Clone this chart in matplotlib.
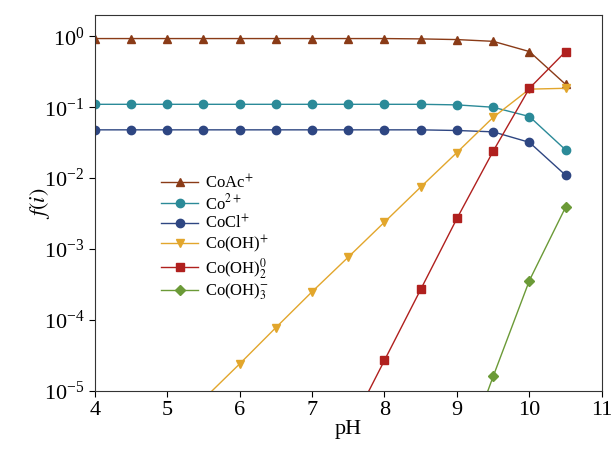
import numpy as np
import matplotlib
matplotlib.use('Agg')
import matplotlib.pyplot as plt

plt.rcParams['font.family'] = 'Liberation Serif'
plt.rcParams['mathtext.fontset'] = 'stix'

# pH grid and species fractions
ph = [4.0, 4.5, 5.0, 5.5, 6.0, 6.5, 7.0, 7.5, 8.0, 8.5, 9.0, 9.5, 10.0, 10.5]
coac = [0.93, 0.93, 0.93, 0.93, 0.93, 0.93, 0.93, 0.93, 0.93, 0.92, 0.9, 0.85, 0.61, 0.21]
co = [0.11, 0.11, 0.11, 0.11, 0.11, 0.11, 0.11, 0.11, 0.11, 0.11, 0.108, 0.1, 0.074, 0.025]
cocl = [0.048, 0.048, 0.048, 0.048, 0.048, 0.048, 0.048, 0.048, 0.048, 0.048, 0.047, 0.045, 0.032, 0.011]
cooh = [7.6e-8, 2.4e-7, 7.6e-7, 7.6e-6, 2.4e-5, 7.8e-5, 2.5e-4, 7.7e-4, 2.4e-3, 7.5e-3, 2.3e-2, 0.072, 0.18, 0.185]
cooh2 = [2.7e-10, 2.7e-9, 2.7e-8, 2.7e-8, 2.7e-8, 2.7e-8, 2.7e-7, 2.7e-6, 2.7e-5, 2.7e-4, 2.7e-3, 0.024, 0.185, 0.61]
cooh3 = [1e-9, 1e-9, 1e-9, 1e-9, 1e-9, 1e-9, 1e-9, 1e-9, 1e-9, 1e-8, 6.5e-7, 1.6e-5, 3.6e-4, 3.9e-3]

series = [
    (coac, 'CoAc$^{+}$', '#8a3b17', '^'),
    (co, 'Co$^{2+}$', '#2b8a98', 'o'),
    (cocl, 'CoCl$^{+}$', '#2e4682', 'o'),
    (cooh, 'Co(OH)$^{+}$', '#e2a62c', 'v'),
    (cooh2, 'Co(OH)$_2^0$', '#b0201e', 's'),
    (cooh3, 'Co(OH)$_3^{-}$', '#6b9a37', 'D'),
]

fig = plt.figure(figsize=(6.11, 4.54), dpi=100)
ax = fig.add_axes([0.155, 0.139, 0.83, 0.828])

for vals, lab, col, mk in series:
    ms = 5 if mk == 'D' else 6
    ax.plot(ph, vals, color=col, marker=mk, markersize=ms, linewidth=1.0, label=lab)

ax.set_yscale('log')
ax.set_xlim(4, 11)
ax.set_ylim(1e-5, 2.0)
ax.set_xticks(range(4, 12))
ax.minorticks_off()
ax.tick_params(axis='both', direction='out', labelsize=16, length=4, top=False, right=False)
ax.set_xlabel('pH', fontsize=16, labelpad=0)
ax.set_ylabel('$f(i)$', fontsize=16, labelpad=-6)
for s in ax.spines.values():
    s.set_color('#333333')

ax.legend(loc='upper left', bbox_to_anchor=(0.115, 0.6), frameon=False, fontsize=12,
          handlelength=2.2, labelspacing=0.05, handletextpad=0.4, borderpad=0)

fig.savefig('out.png', dpi=100)
